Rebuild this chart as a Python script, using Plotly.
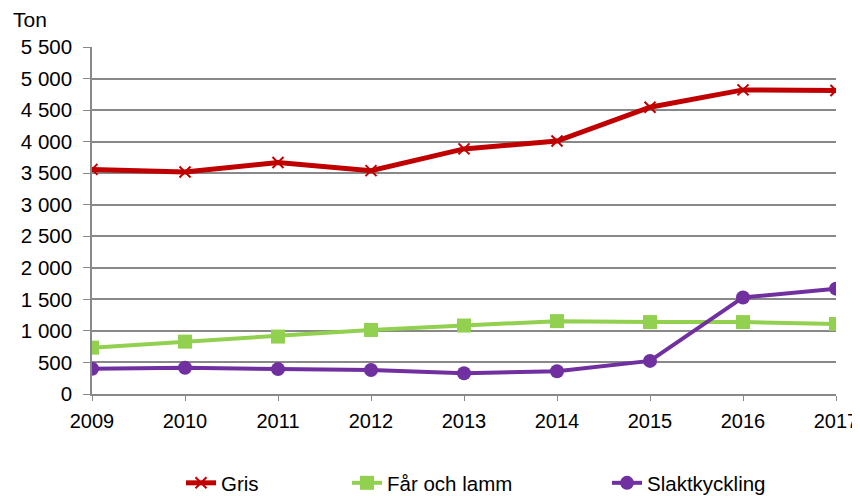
import plotly.graph_objects as go

years = [2009, 2010, 2011, 2012, 2013, 2014, 2015, 2016, 2017]
gris = [3560, 3520, 3670, 3540, 3885, 4010, 4545, 4820, 4810]
far_och_lamm = [735, 830, 910, 1015, 1085, 1155, 1140, 1140, 1110]
slaktkyckling = [400, 415, 395, 380, 330, 360, 525, 1530, 1670]

# page body has an 8px margin: figure sits at screen (8, 8)
OFF = 8
PLOT_L, PLOT_R, PLOT_T, PLOT_B = 92, 836, 47, 394
FW, FH = 860 - OFF, 496 - OFF
L = PLOT_L - OFF
T = PLOT_T - OFF
R = FW - (PLOT_R - OFF)
B = FH - (PLOT_B - OFF)
PW = PLOT_R - PLOT_L
PH = PLOT_B - PLOT_T

def sx(px):
    return (px - PLOT_L) / PW

def sy(py):
    return (PLOT_B - py) / PH

fig = go.Figure()
fig.add_trace(go.Scatter(x=years, y=gris, name="Gris", mode="lines+markers", legend="legend",
                         line=dict(color="#C00000", width=5),
                         marker=dict(symbol="x-thin", size=11, color="#C00000",
                                     line=dict(color="#C00000", width=2))))
fig.add_trace(go.Scatter(x=years, y=far_och_lamm, name="Får och lamm", mode="lines+markers", legend="legend2",
                         line=dict(color="#92D050", width=4),
                         marker=dict(symbol="square", size=14, color="#92D050")))
fig.add_trace(go.Scatter(x=years, y=slaktkyckling, name="Slaktkyckling", mode="lines+markers", legend="legend3",
                         line=dict(color="#7030A0", width=4),
                         marker=dict(symbol="circle", size=14, color="#7030A0")))

leg_common = dict(orientation="h", y=sy(503), yanchor="bottom",
                  xanchor="left", font=dict(size=20.5, color="#000000"),
                  bgcolor="rgba(0,0,0,0)", borderwidth=0)

fig.update_layout(
    width=FW, height=FH,
    margin=dict(l=L, r=R, t=T, b=B, autoexpand=False),
    paper_bgcolor="white", plot_bgcolor="white",
    separators=", ",
    font=dict(family="Liberation Sans, Arial, sans-serif", size=20, color="#000000"),
    showlegend=True,
    legend=dict(x=sx(181), **leg_common),
    legend2=dict(x=sx(347), **leg_common),
    legend3=dict(x=sx(607), **leg_common),
    annotations=[dict(text="Ton", xref="paper", yref="paper", x=sx(11), y=sy(20),
                      xanchor="left", yanchor="middle", showarrow=False,
                      font=dict(size=21))],
)
fig.update_xaxes(range=[2009, 2017], tickmode="array", tickvals=years,
                 ticktext=[str(y) for y in years], tickfont=dict(size=20),
                 showgrid=False, showline=True, linecolor="#888888", linewidth=1.5,
                 ticks="outside", ticklen=5, tickcolor="#888888", zeroline=False,
                 ticklabelstandoff=3, ticklabeloverflow="allow", automargin=False)
fig.update_yaxes(range=[0, 5500], dtick=500, tickformat=",d", tickfont=dict(size=20.5),
                 showgrid=True, gridcolor="#888888", gridwidth=1.5,
                 showline=True, linecolor="#888888", linewidth=1.5,
                 ticks="outside", ticklen=7, tickcolor="#888888", zeroline=False,
                 ticklabelstandoff=7, automargin=False)

fig.write_html("out.html")
